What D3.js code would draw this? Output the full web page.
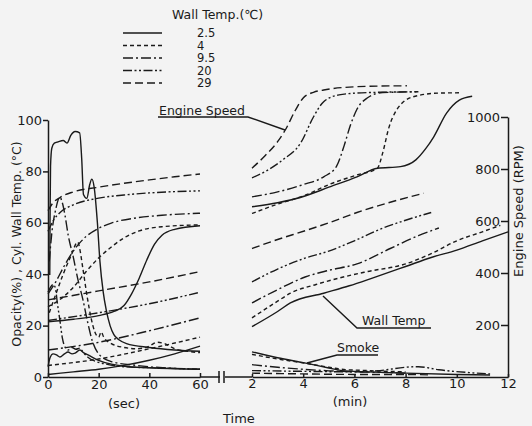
<!DOCTYPE html>
<html>
<meta http-equiv="content-type" content="text/html; charset=utf-8" />
<head>
    <title>Cold start: speed, wall temp, smoke</title>
</head>

<style>
body { margin: 0; background: #f3f3f3; }
text { font-family: "DejaVu Sans", sans-serif; fill: #1a1a1a; }
.axis path,
.axis line {
  fill: none;
  stroke: #1a1a1a;
  stroke-width: 1.5px;
}
.axis text { font-size: 13px; }
.curve {
  fill: none;
  stroke: #1a1a1a;
  stroke-width: 1.4px;
}
.note { font-size: 12.5px; }
</style>

<svg class="chart"></svg>
<script src="https://d3js.org/d3.v7.min.js"></script>

<script type="text/javascript">
  // wall temperature conditions (legend)
  var conditions = ["2.5", "4", "9.5", "20", "29"];
  var secTicks = [0, 20, 40, 60];
  var minTicks = [2, 4, 6, 8, 10, 12];
  var pctTicks = [0, 20, 40, 60, 80, 100];
  var rpmTicks = [200, 400, 600, 800, 1000];

  // engine speed (RPM), first minute, [sec, rpm]
  var speedSec25 = [[0,212],[10,222],[20,236],[26,252],[30,275],[33,320],[36,380],[39,450],[42,510],[45,545],[50,568],[60,582]];
  var speedSec4  = [[0,270],[5,300],[10,345],[15,405],[20,458],[25,500],[30,535],[36,562],[45,578],[60,585]];
  var speedSec95 = [[0,320],[3,365],[6,420],[9,470],[12,510],[15,540],[20,572],[25,592],[35,612],[45,622],[60,630]];
  var speedSec20 = [[0,560],[2,600],[5,635],[10,662],[20,688],[30,700],[40,708],[50,713],[60,716]];
  var speedSec29 = [[0,640],[2,670],[5,692],[10,712],[20,730],[30,745],[40,758],[50,770],[60,781]];

  // engine speed (RPM), 2-12 min, [min, rpm]
  var speedMin25 = [[2,655],[3,670],[4.1,697],[5,730],[6.1,770],[6.9,803],[7.8,809],[8.4,835],[8.8,880],[9.1,924],[9.6,1015],[10.1,1065],[10.6,1080]];
  var speedMin4  = [[2,629],[3,665],[4.1,700],[5,740],[6.1,777],[6.9,803],[7.1,860],[7.35,960],[7.65,1027],[8.3,1078],[9.3,1092],[10.1,1093]];
  var speedMin95 = [[2,693],[3,712],[4,740],[4.8,770],[5.3,810],[5.6,890],[5.85,970],[6.1,1030],[6.5,1073],[7.1,1094],[8.5,1097]];
  var speedMin20 = [[2,766],[2.6,795],[3.2,835],[3.9,900],[4.4,1000],[4.8,1059],[5.4,1085],[6.5,1094],[8.5,1097]];
  var speedMin29 = [[2,803],[2.5,850],[3,905],[3.3,950],[3.7,1027],[4,1073],[4.4,1095],[4.8,1104],[5.8,1115],[7,1119],[8.05,1120]];

  // cylinder wall temp (deg C), [sec, C] and [min, C]
  var wallSec25 = [[0,1],[10,2],[20,3],[30,4.5],[40,6.5],[50,9],[60,12]];
  var wallSec4  = [[0,4.5],[20,7],[40,11],[60,15.5]];
  var wallSec95 = [[0,10.5],[20,13.5],[40,18],[60,23]];
  var wallSec20 = [[0,22],[20,25],[40,28.5],[60,33]];
  var wallSec29 = [[0,30],[20,33.5],[40,37],[60,41]];
  var wallMin25 = [[2,19.6],[3,25.5],[3.5,28.8],[4.8,32.6],[5.8,35.5],[6.7,38.5],[8,43],[9,46.5],[10,49.4],[11,53],[12,56.5]];
  var wallMin4  = [[2,23],[3,29.5],[3.5,32.6],[4.5,36],[5.4,38.5],[6.5,41],[8,44],[9,48],[10,53],[11,56.5],[11.7,59]];
  var wallMin95 = [[2,28.8],[3,34],[4.1,39],[5,41.5],[6.1,44],[7.4,50],[8.5,55],[9.3,58]];
  var wallMin20 = [[2,37],[3,42],[4,46],[5,49],[6,53],[7,57.5],[8,61],[9,64]];
  var wallMin29 = [[2,50],[3,53.5],[4.1,57],[5,60],[6.1,64],[7.4,68],[8.7,71.5]];

  // smoke opacity (%), [sec, %] and [min, %]
  var opSec25 = [[0,40],[0.7,40],[0.8,60],[1,82],[1.5,89],[2.5,91],[4,91.5],[6,92],[7.5,91],[9,94],[10.7,95.5],[12.5,95],[13.3,85],[14,71],[15.3,69.5],[16.5,75],[17.3,77],[18.2,74],[19.5,60],[20.5,45],[21.8,33],[23,26],[24.5,20],[26,16.5],[28,14.5],[31,13],[40,11.5],[50,10.5],[60,10]];
  var opSec4  = [[0.5,25],[3,32],[6,40],[9,47],[11.8,52.5],[12.5,50],[13.8,42],[15.5,31],[17,23],[18.5,17.5],[20,15.5],[21,17.5],[22,15.5],[25,13],[30,11.5],[35,11],[40,12],[43,13.5],[46,13],[50,11],[55,10],[60,9.5]];
  var opSec95 = [[0.5,45],[1.5,56],[3,65],[4.7,70],[5.6,68],[6.7,63],[8,55],[9.9,47],[11.8,38],[13.8,30],[15.5,22],[17.5,14],[20,9],[25,6],[35,4.5],[60,3]];
  var opSec20 = [[0,33],[1,35],[2,36],[2.8,35],[3.8,28],[4.7,22],[5.7,15],[6.8,11.5],[8,10.5],[9.5,11.5],[11,10.8],[12.5,11.2],[14,9.5],[16,7.5],[19,6],[23,5],[30,4],[45,3.5],[60,3]];
  var opSec29 = [[0,4],[0.8,7.5],[2,9],[3.5,8.5],[4.7,7.8],[6.5,9],[7.9,9.7],[9.5,9],[10.7,9.3],[12.6,10.5],[14,9.5],[15.8,8.6],[19.7,6.6],[25,5],[30,4.2],[40,3.6],[60,3]];
  var opMin25 = [[2,9.8],[3,7.5],[4.1,5.4],[5,3.5],[5.5,2.5],[6.5,2],[8,1.5],[10,1],[11.3,0.8]];
  var opMin4  = [[2,8.8],[3,7],[4,5.5],[5,3.8],[5.5,3],[6.5,2.5],[8,2]];
  var opMin95 = [[2,4.8],[3,3.8],[4,3],[5,2.4],[6,2],[7,1.8],[8,1.5]];
  var opMin20 = [[2,2.5],[4,2.2],[6,2],[7,2.5],[8,3.8],[8.5,4],[9.3,2.8],[10.5,1.7],[11.3,1.2]];
  var opMin29 = [[2,1.5],[4,1.2],[6,1],[8,1],[9,0.8]];

  var dashes = {"2.5": null, "4": "4,3", "9.5": "10,3,2,3", "20": "9,2.5,2,2.5,2,2.5", "29": "8,4"};

  var width = 532, height = 426;

  var xSec = d3.scaleLinear().domain([0, 60]).range([48, 200]);
  var xMin = d3.scaleLinear().domain([2, 12]).range([252, 508]);
  var yPct = d3.scaleLinear().domain([0, 100]).range([377, 120]);
  var yRpm = d3.scaleLinear().domain([0, 1000]).range([377, 117]);

  var chart = d3.select(".chart")
    .attr("width", width)
    .attr("height", height);

  var series = [
    {d: speedSec25, x: xSec, y: yRpm, c: "2.5"}, {d: speedSec4, x: xSec, y: yRpm, c: "4"},
    {d: speedSec95, x: xSec, y: yRpm, c: "9.5"}, {d: speedSec20, x: xSec, y: yRpm, c: "20"},
    {d: speedSec29, x: xSec, y: yRpm, c: "29"},
    {d: speedMin25, x: xMin, y: yRpm, c: "2.5"}, {d: speedMin4, x: xMin, y: yRpm, c: "4"},
    {d: speedMin95, x: xMin, y: yRpm, c: "9.5"}, {d: speedMin20, x: xMin, y: yRpm, c: "20"},
    {d: speedMin29, x: xMin, y: yRpm, c: "29"},
    {d: wallSec25, x: xSec, y: yPct, c: "2.5"}, {d: wallSec4, x: xSec, y: yPct, c: "4"},
    {d: wallSec95, x: xSec, y: yPct, c: "9.5"}, {d: wallSec20, x: xSec, y: yPct, c: "20"},
    {d: wallSec29, x: xSec, y: yPct, c: "29"},
    {d: wallMin25, x: xMin, y: yPct, c: "2.5"}, {d: wallMin4, x: xMin, y: yPct, c: "4"},
    {d: wallMin95, x: xMin, y: yPct, c: "9.5"}, {d: wallMin20, x: xMin, y: yPct, c: "20"},
    {d: wallMin29, x: xMin, y: yPct, c: "29"},
    {d: opSec25, x: xSec, y: yPct, c: "2.5"}, {d: opSec4, x: xSec, y: yPct, c: "4"},
    {d: opSec95, x: xSec, y: yPct, c: "9.5"}, {d: opSec20, x: xSec, y: yPct, c: "20"},
    {d: opSec29, x: xSec, y: yPct, c: "2.5"},
    {d: opMin25, x: xMin, y: yPct, c: "2.5"}, {d: opMin4, x: xMin, y: yPct, c: "4"},
    {d: opMin95, x: xMin, y: yPct, c: "9.5"}, {d: opMin20, x: xMin, y: yPct, c: "20"},
    {d: opMin29, x: xMin, y: yPct, c: "29"}
  ];

  chart.selectAll(".curve")
    .data(series).enter()
    .append("path")
      .attr("class", "curve")
      .attr("stroke-dasharray", function(s) { return dashes[s.c]; })
      .attr("d", function(s) {
        return d3.line()
          .x(function(p) { return s.x(p[0]); })
          .y(function(p) { return s.y(p[1]); })
          .curve(d3.curveMonotoneX)(s.d);
      });

  // axes
  chart.append("g")
    .attr("class", "axis")
    .attr("transform", "translate(48,0)")
    .call(d3.axisLeft(yPct).tickValues(pctTicks).tickSizeInner(5).tickSizeOuter(0).tickPadding(1));

  chart.append("g")
    .attr("class", "axis")
    .attr("transform", "translate(508,0)")
    .call(d3.axisLeft(yRpm).tickValues(rpmTicks).tickFormat(d3.format("d"))
      .tickSizeInner(7).tickSizeOuter(0).tickPadding(1));

  chart.append("g")
    .attr("class", "axis")
    .attr("transform", "translate(0,377)")
    .call(d3.axisBottom(xSec).tickValues(secTicks).tickSizeInner(-4).tickSizeOuter(0).tickPadding(3));

  chart.append("g")
    .attr("class", "axis")
    .attr("transform", "translate(0,377)")
    .call(d3.axisBottom(xMin).tickValues(minTicks).tickSizeInner(-3).tickSizeOuter(0).tickPadding(2));

  // axis joint and break between the two time scales
  chart.append("path")
    .attr("class", "curve")
    .style("stroke-width", "1.5px")
    .attr("d", "M200,377H220M225,377H252M219,371V383M224,371V383");

  // axis titles
  chart.append("text")
    .attr("transform", "translate(21,244) rotate(-90)")
    .style("text-anchor", "middle")
    .style("font-size", "12.5px")
    .text("Opacity(%) , Cyl. Wall Temp. (°C)");

  chart.append("text")
    .attr("transform", "translate(523,211) rotate(-90)")
    .style("text-anchor", "middle")
    .style("font-size", "13px")
    .text("Engine Speed (RPM)");

  chart.append("text").attr("x", 124).attr("y", 408)
    .style("text-anchor", "middle").style("font-size", "13px").text("(sec)");
  chart.append("text").attr("x", 350).attr("y", 406)
    .style("text-anchor", "middle").style("font-size", "13px").text("(min)");
  chart.append("text").attr("x", 223).attr("y", 423)
    .style("font-size", "13px").text("Time");

  // annotations with leaders
  chart.append("text").attr("class", "note").attr("x", 159).attr("y", 115).text("Engine Speed");
  chart.append("path").attr("class", "curve").attr("d", "M158,117H248L285,130");
  chart.append("text").attr("class", "note").attr("x", 362).attr("y", 325).text("Wall Temp");
  chart.append("path").attr("class", "curve").attr("d", "M431,328H357L323,296");
  chart.append("text").attr("class", "note").attr("x", 337).attr("y", 352).text("Smoke");
  chart.append("path").attr("class", "curve").attr("d", "M378,355H337L307,363");

  // legend
  chart.append("text")
    .attr("x", 172).attr("y", 19)
    .style("font-size", "12.5px")
    .text("Wall Temp.(℃)");

  var legendY = [33, 45.5, 58, 70.5, 83];
  var item = chart.selectAll(".legend")
    .data(conditions).enter()
    .append("g")
      .attr("class", "legend");

  item.append("line")
    .attr("class", "curve")
    .attr("x1", 123).attr("x2", 162)
    .attr("y1", function(d, i) { return legendY[i]; })
    .attr("y2", function(d, i) { return legendY[i]; })
    .attr("stroke-dasharray", function(d) { return dashes[d]; });

  item.append("text")
    .attr("x", 197)
    .attr("y", function(d, i) { return legendY[i] + 4; })
    .style("font-size", "11.5px")
    .text(function(d) { return d; });
</script>

</html>
